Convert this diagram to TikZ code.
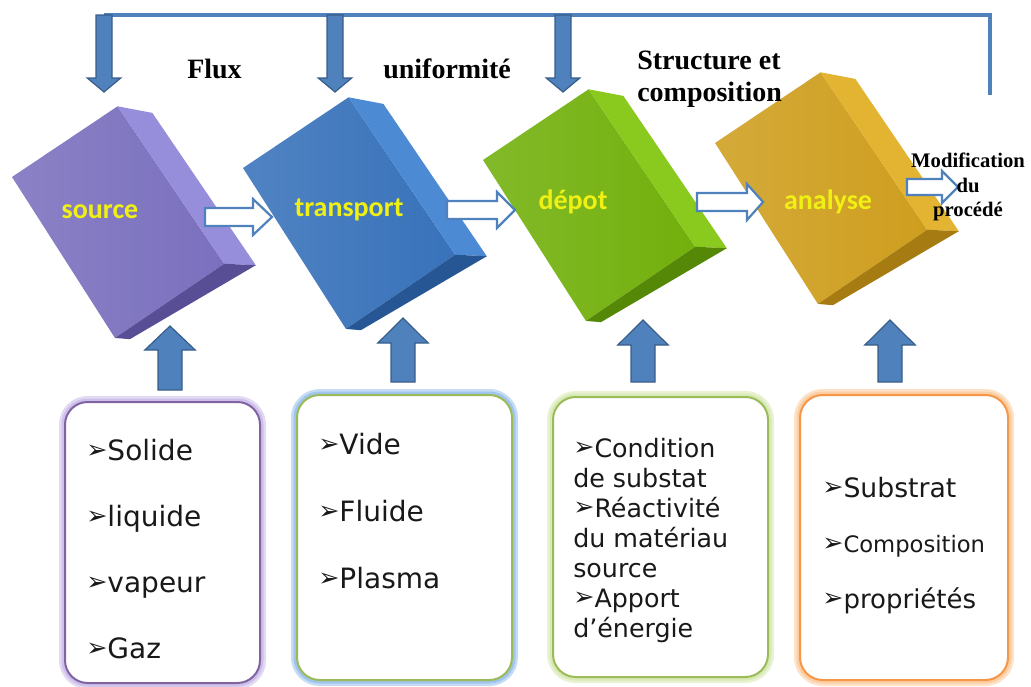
\documentclass[tikz,border=0pt]{standalone}
\usepackage{fontspec}
\setmainfont{Liberation Serif}
\newfontfamily\verdfont{DejaVu Sans}
\newfontfamily\califont{Carlito}
\usepackage{xcolor}
\usetikzlibrary{positioning}
\definecolor{arrowblue}{RGB}{79,129,189}
\definecolor{arrowedge}{RGB}{56,93,138}
\definecolor{srcfront}{RGB}{122,112,190}
\definecolor{srcside}{RGB}{150,142,218}
\definecolor{srcbot}{RGB}{88,78,150}
\definecolor{trfront}{RGB}{56,114,186}
\definecolor{trside}{RGB}{76,138,212}
\definecolor{trbot}{RGB}{38,86,148}
\definecolor{depfront}{RGB}{114,176,12}
\definecolor{depside}{RGB}{138,202,30}
\definecolor{depbot}{RGB}{86,136,8}
\definecolor{anfront}{RGB}{206,158,30}
\definecolor{anside}{RGB}{226,180,50}
\definecolor{anbot}{RGB}{166,124,18}
\definecolor{labyellow}{RGB}{240,240,20}
\definecolor{boxpurple}{RGB}{128,100,162}
\definecolor{glowpurple}{RGB}{206,192,234}
\definecolor{boxgreen}{RGB}{155,187,89}
\definecolor{glowblue}{RGB}{160,196,236}
\definecolor{glowgreen}{RGB}{216,234,182}
\definecolor{boxorange}{RGB}{247,150,70}
\definecolor{gloworange}{RGB}{252,206,164}

\newcommand{\px}{0.75pt}
\newcommand{\bul}{\raisebox{0.04em}{\fontsize{19}{19}\selectfont ➢}}

% rotated block: corner x, corner y, colour prefix
\newcommand{\cuboid}[3]{%
\begin{scope}[shift={(#1,#2)},rotate=32]
\shade[left color=#3front!88!white, right color=#3front] (0,0) -- (127,-4) -- (134,186) -- (2,191) -- cycle;
\fill[#3side] (127,-4) -- (153,20) -- (160,204) -- (134,186) -- cycle;
\fill[#3bot] (2,191) -- (134,186) -- (160,204) -- (14,200) -- cycle;
\end{scope}}

% vertical block arrow: x, tail y, head base y, tip y, half shaft
\newcommand{\blockvert}[5]{%
\filldraw[bluearrow] (#1-#5,#2) -- (#1-#5,#3) -- (#1-2.1*#5,#3) -- (#1,#4)
  -- (#1+2.1*#5,#3) -- (#1+#5,#3) -- (#1+#5,#2) -- cycle;}

% hollow arrow: tail x, head base x, tip x, y, half shaft
\newcommand{\blockright}[5]{%
\filldraw[hollowarrow] (#1,#4-#5) -- (#2,#4-#5) -- (#2,#4-2*#5) -- (#3,#4)
  -- (#2,#4+2*#5) -- (#2,#4+#5) -- (#1,#4+#5) -- cycle;}

\tikzset{
  bluearrow/.style={fill=arrowblue, draw=arrowedge, line width=1.2*\px},
  hollowarrow/.style={fill=white, draw=arrowblue, line width=2.2*\px},
  feedback/.style={draw=arrowblue, line width=3.5*\px},
  cubelabel/.style={font=\califont\bfseries\fontsize{21}{21}\selectfont, text=labyellow},
  toplabel/.style={font=\bfseries\fontsize{21}{23.3}\selectfont, inner sep=0pt, anchor=base west},
  listbox/.style 2 args={draw=#1, line width=2*\px, fill=white, rounded corners=17pt,
    preaction={draw=#2!60, line width=12*\px},
    preaction={draw=#2, line width=7*\px}},
  item/.style={font=\verdfont\fontsize{21}{25}\selectfont, anchor=base west,
    inner sep=0pt, text=black!90},
}

\begin{document}
\begin{tikzpicture}[x=0.75pt,y=-0.75pt]
\useasboundingbox (0,0) rectangle (1031,686);

% feedback loop
\draw[feedback] (104,15) -| (990,95);
\blockvert{104}{15}{78}{92}{8}
\blockvert{335}{15}{78}{92}{8}
\blockvert{563}{15}{78}{92}{8}

% inputs from below
\blockvert{170}{390}{350}{326}{12}
\blockvert{403}{382}{343}{318}{12}
\blockvert{643}{382}{345}{320}{12}
\blockvert{890}{382}{345}{320}{12}

% process blocks
\cuboid{12}{177}{src}
\cuboid{243}{168}{tr}
\cuboid{483}{160}{dep}
\cuboid{715}{143}{an}

\node[cubelabel] (source) at (100,212) {source};
\node[cubelabel] (transport) at (349,210) {transport};
\node[cubelabel] (depot) at (573,202) {dépot};
\node[cubelabel] (analyse) at (828,202) {analyse};

\blockright{205}{253}{272}{217}{9}
\blockright{447}{497}{515}{210}{9}
\blockright{697}{747}{763}{202}{9}
\blockright{907}{942}{958}{187}{8}

% labels of the loop
\node[toplabel] (flux) at (187,78) {Flux};
\node[toplabel] (unif) at (383,78) {uniformité};
\node[toplabel, align=left] (struct) at (637,101) {Structure et\\composition};
\node[font=\bfseries\fontsize{15.5}{18.5}\selectfont, align=center, inner sep=0pt] (modif) at (968,187) {Modification\\du\\procédé};

% parameter boxes
\node[listbox={boxpurple}{glowpurple}, minimum width=195*\px, minimum height=281*\px] (lst1) at (162.5,542.5) {};
\node[listbox={boxgreen}{glowblue}, minimum width=215*\px, minimum height=285*\px] (lst2) at (404.5,537.5) {};
\node[listbox={boxgreen}{glowgreen}, minimum width=215*\px, minimum height=280*\px] (lst3) at (660.5,537) {};
\node[listbox={boxorange}{gloworange}, minimum width=208*\px, minimum height=285*\px] (lst4) at (904,537.5) {};

\foreach \t [count=\i] in {Solide, liquide, vapeur, Gaz}
  \node[item] (s\i) at (86,{460+66*(\i-1)}) {\bul\t};
\foreach \t [count=\i] in {Vide, Fluide, Plasma}
  \node[item] (t\i) at (318,{454+67*(\i-1)}) {\bul\t};
\foreach \t [count=\i] in {\bul Condition, de substat, \bul Réactivité, du matériau, source, \bul Apport, d’énergie}
  \node[item, font=\verdfont\fontsize{19}{22}\selectfont] (d\i) at (573,{457+30*(\i-1)}) {\t};
\node[item, font=\verdfont\fontsize{20}{24}\selectfont] (a1) at (822,497) {\bul Substrat};
\node[item, font=\verdfont\fontsize{17}{20}\selectfont] (a2) at (822,552) {\bul Composition};
\node[item, font=\verdfont\fontsize{19.5}{23}\selectfont] (a3) at (822,608) {\bul propriétés};

\end{tikzpicture}
\end{document}
